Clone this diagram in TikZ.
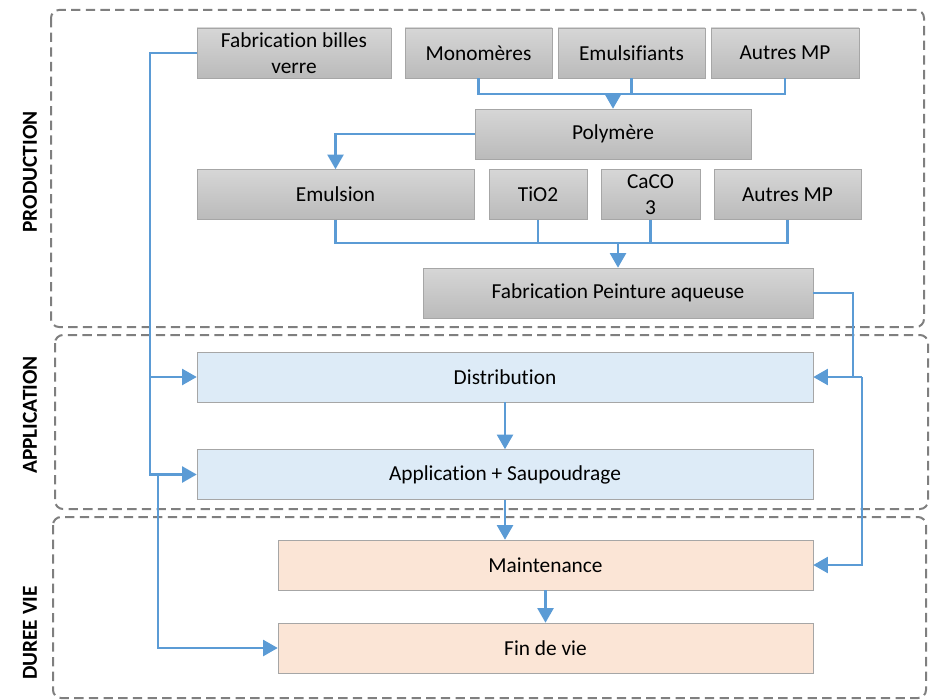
\documentclass[tikz,border=0pt]{standalone}
\usepackage{fontspec}
\setmainfont[RawFeature={-liga;-calt;-dlig}]{Carlito}
\usepackage{xcolor}
\definecolor{FlowBlue}{HTML}{5B9BD5}
\definecolor{BoxLine}{HTML}{A6A6A6}
\definecolor{AppFill}{HTML}{DDEBF7}
\definecolor{LifeFill}{HTML}{FBE5D6}
\definecolor{ZoneGray}{HTML}{7F7F7F}
\usepackage{tikz}
\usetikzlibrary{arrows.meta, positioning}

\begin{document}
\begin{tikzpicture}[x=0.75pt, y=-0.75pt,
    font=\fontsize{16}{19.5}\selectfont,
    prodbox/.style={draw=BoxLine, top color=black!16, bottom color=black!27,
      inner sep=0pt, minimum height=37.5pt, align=center},
    appbox/.style={draw=BoxLine, fill=AppFill, inner sep=0pt,
      minimum width=462pt, minimum height=37.5pt},
    lifebox/.style={draw=BoxLine, fill=LifeFill, inner sep=0pt,
      minimum width=401.25pt, minimum height=37.5pt},
    zone/.style={draw=ZoneGray, line width=1.5pt, dash pattern=on 7pt off 4pt,
      rounded corners=6pt},
    zonelabel/.style={rotate=90, font=\fontsize{16}{19.5}\selectfont\bfseries},
    flow/.style={draw=FlowBlue, line width=1.9pt},
    flowarrow/.style={flow, -{Triangle[length=11pt,width=12pt]}}]
  \useasboundingbox (0,0) rectangle (934,699);

  % zones
  \draw[zone] (51,10) rectangle (924,327);
  \draw[zone] (55,335) rectangle (928,509);
  \draw[zone] (53,517) rectangle (926,698);
  \node[zonelabel] (lprod) at (30,172) {PRODUCTION};
  \node[zonelabel] (lappl) at (30,415) {APPLICATION};
  \node[zonelabel] (lduree) at (30,633) {DUREE VIE};

  % production
  \node[prodbox, minimum width=145.5pt] (billes) at (294,53) {Fabrication billes\\verre};
  \node[prodbox, minimum width=110.25pt] (mono) at (478.5,53) {Monomères};
  \node[prodbox, minimum width=110.25pt] (emulsif) at (631.5,53) {Emulsifiants};
  \node[prodbox, minimum width=111pt] (autresA) at (785,53) {Autres MP};
  \node[prodbox, minimum width=207pt] (poly) at (613,134) {Polymère};
  \node[prodbox, minimum width=207.75pt] (emulsion) at (335.5,194.5) {Emulsion};
  \node[prodbox, minimum width=73.5pt] (tio) at (538,194.5) {TiO2};
  \node[prodbox, minimum width=74.25pt] (caco) at (650.5,194.5) {CaCO\\3};
  \node[prodbox, minimum width=110.25pt] (autresB) at (787.5,194.5) {Autres MP};
  \node[prodbox, minimum width=292.5pt] (peinture) at (618,293) {Fabrication Peinture aqueuse};

  % application
  \node[appbox] (distrib) at (505,377) {Distribution};
  \node[appbox] (appli) at (505,474.5) {Application + Saupoudrage};

  % duree de vie
  \node[lifebox] (maint) at (545.5,565) {Maintenance};
  \node[lifebox] (fin) at (545.5,648) {Fin de vie};

  % connectors
  \coordinate (jpoly) at (613,94);
  \draw[flow] (mono.south) |- (jpoly);
  \draw[flow] (emulsif.south) |- (jpoly);
  \draw[flow] (autresA.south) |- (jpoly);
  \draw[flowarrow] (jpoly) -- (poly.north);
  \draw[flowarrow] (poly.west) -| (emulsion.north);

  \coordinate (jpeint) at (618,243);
  \draw[flow] (emulsion.south) |- (jpeint);
  \draw[flow] (tio.south) |- (jpeint);
  \draw[flow] (caco.south) |- (jpeint);
  \draw[flow] (autresB.south) |- (jpeint);
  \draw[flowarrow] (jpeint) -- (peinture.north);

  \coordinate (rA) at (853,377);
  \coordinate (rB) at (862,377);
  \draw[flowarrow] (rB) |- (maint.east);
  \draw[flow] (rA) -- (rB);
  \draw[flowarrow] (peinture.east) -| (rA) -- (distrib.east);

  \coordinate (lA) at (150,377);
  \coordinate (lB) at (158,474.5);
  \draw[flowarrow] (billes.west) -| (lA) -- (distrib.west);
  \draw[flowarrow] (lA) |- (appli.west);
  \draw[flowarrow] (lB) |- (fin.west);

  \draw[flowarrow] (distrib.south) -- (appli.north);
  \draw[flowarrow] (appli.south) -- (appli.south |- maint.north);
  \draw[flowarrow] (maint.south) -- (fin.north);
\end{tikzpicture}
\end{document}
